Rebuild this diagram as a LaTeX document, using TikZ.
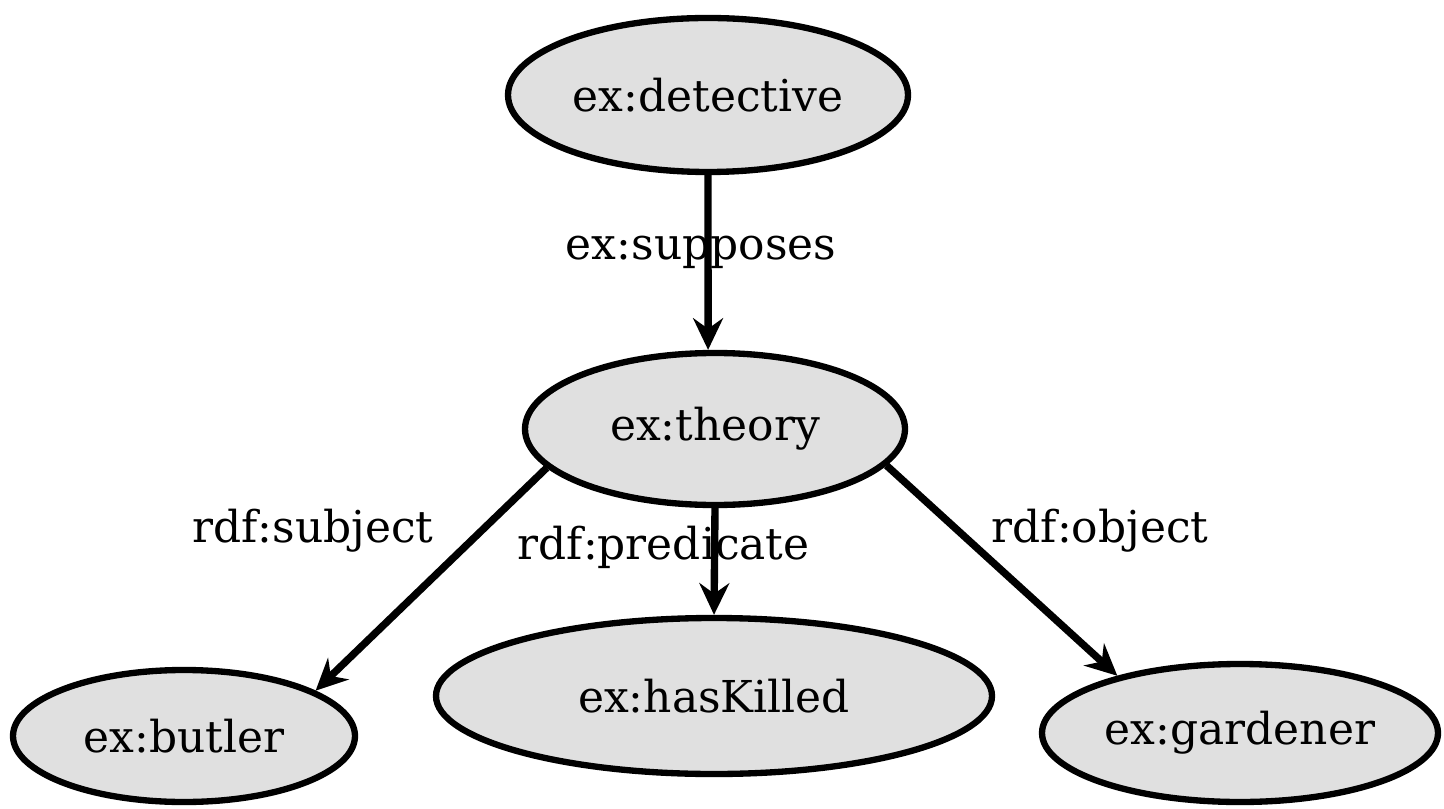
\documentclass[tikz,border=0pt]{standalone}
\usepackage{fontspec}
\setmainfont{DejaVu Serif}
\usepackage{tikz}
\usetikzlibrary{shapes.geometric, arrows.meta, positioning}
\usepackage{xcolor}

\begin{document}
\begin{tikzpicture}[
        res/.style={ellipse, draw=black, line width=1.8pt, fill=black!12, inner sep=0pt, font=\fontsize{12.5}{15}\selectfont},
        lbl/.style={inner sep=1pt, font=\fontsize{12.5}{15}\selectfont},
        arrow/.style={-{Stealth[length=9pt, width=8.5pt, inset=3pt]}, line width=2.1pt, draw=black}
    ]
        \useasboundingbox (0,0) rectangle (14.44,8.08);

        \node[res, minimum width=4.0cm, minimum height=1.54cm] (detective) at (7.08,7.13) {ex:detective};
        \node[res, minimum width=3.8cm, minimum height=1.52cm] (theory) at (7.15,3.79) {ex:theory};
        \node[res, minimum width=3.42cm, minimum height=1.32cm] (butler) at (1.84,0.72) {ex:butler};
        \node[res, minimum width=5.56cm, minimum height=1.56cm] (haskilled) at (7.14,1.12) {ex:hasKilled};
        \node[res, minimum width=3.96cm, minimum height=1.38cm] (gardener) at (12.40,0.75) {ex:gardener};

        \draw[arrow] (detective.south) -- node[lbl, pos=0.44, xshift=-0.07cm] {ex:supposes} (theory.95);
        \draw[arrow] (theory.193) -- node[lbl, pos=0.28, xshift=-1.69cm] {rdf:subject} (butler.19);
        \draw[arrow] (theory.south) -- node[lbl, pos=0.37, xshift=-0.51cm] {rdf:predicate} (haskilled.north);
        \draw[arrow] (theory.348) -- node[lbl, pos=0.31, xshift=1.42cm] {rdf:object} (gardener.155);
    \end{tikzpicture}
\end{document}
